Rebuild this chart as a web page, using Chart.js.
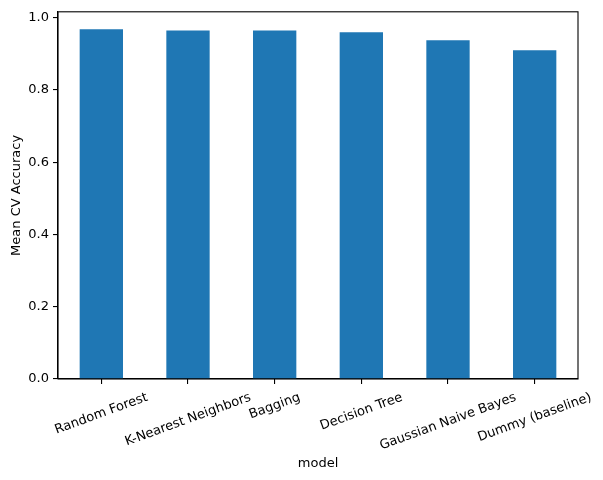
<!DOCTYPE html>
<html>
<head>
<meta charset="utf-8">
<script src="https://cdn.jsdelivr.net/npm/chart.js@4.4.0/dist/chart.umd.min.js"></script>
<style>
  html, body { margin: 0; padding: 0; background: #fff; }
  #wrap { width: 603px; height: 480px; }
</style>
</head>
<body>
<div id="wrap"><canvas id="accChart" width="603" height="480"></canvas></div>
<script>
// data
var models = ["Random Forest", "K-Nearest Neighbors", "Bagging", "Decision Tree", "Gaussian Naive Bayes", "Dummy (baseline)"];
var meanAcc = [0.968, 0.965, 0.965, 0.960, 0.938, 0.910];
var yTicks = [0.0, 0.2, 0.4, 0.6, 0.8, 1.0];
var yMax = 1.0165;

var FONT = "'DejaVu Sans', sans-serif";

// frame + rotated category labels (matplotlib style, centred under tick)
var mplPlugin = {
	id: 'mplPlugin',
	afterDraw: function(chart) {
		var c = chart.ctx, a = chart.chartArea;
		c.save();
		c.strokeStyle = '#000';
		c.lineWidth = 1.1;
		c.strokeRect(a.left, a.top, a.right - a.left, a.bottom - a.top);

		var xs = chart.scales.x;
		var ang = 20 * Math.PI / 180;
		c.font = "13px " + FONT;
		c.fillStyle = '#000';
		c.textAlign = 'center';
		c.textBaseline = 'middle';
		for (var i = 0; i < models.length; i++) {
			var w = c.measureText(models[i]).width;
			var h = 15;
			var boxH = w * Math.sin(ang) + h * Math.cos(ang);
			var px = xs.getPixelForTick(i);
			var py = a.bottom + 11 + boxH / 2;
			c.save();
			c.translate(px, py);
			c.rotate(-ang);
			c.fillText(models[i], 0, 0);
			c.restore();
		}
		c.restore();
	}
};

var ctx = document.getElementById("accChart").getContext('2d');
var chart = new Chart(ctx, {
	type: 'bar',
	data: {
		labels: models,
		datasets: [{
			data: meanAcc,
			backgroundColor: '#1f77b4',
			borderWidth: 0,
			categoryPercentage: 1.0,
			barPercentage: 0.5
		}]
	},
	options: {
		responsive: false,
		animation: false,
		layout: { padding: { top: 9, right: 25, left: 0, bottom: 0 } },
		plugins: {
			legend: { display: false },
			tooltip: { enabled: false }
		},
		scales: {
			x: {
				afterFit: function(s) { s.height = 101; },
				grid: { offset: false, drawOnChartArea: false, drawTicks: true, tickLength: 5, color: '#000', lineWidth: 1.1 },
				border: { color: '#000', width: 1.1 },
				ticks: { display: false },
				title: {
					display: true, text: 'model', color: '#000',
					font: { family: FONT, size: 13 },
					padding: { top: 0, bottom: 9 }
				}
			},
			y: {
				min: 0,
				max: yMax,
				afterFit: function(s) { s.width = 58; },
				afterBuildTicks: function(s) {
					s.ticks = yTicks.map(function(v) { return { value: v }; });
				},
				grid: { drawOnChartArea: false, drawTicks: true, tickLength: 5, color: '#000', lineWidth: 1.1 },
				border: { color: '#000', width: 1.1 },
				ticks: {
					color: '#000',
					padding: 4,
					font: { family: FONT, size: 13 },
					callback: function(v) { return Number(v).toFixed(1); }
				},
				title: {
					display: true, text: 'Mean CV Accuracy', color: '#000',
					font: { family: FONT, size: 13 },
					padding: { top: 9, bottom: 0 }
				}
			}
		}
	},
	plugins: [mplPlugin]
});
</script>
</body>
</html>
